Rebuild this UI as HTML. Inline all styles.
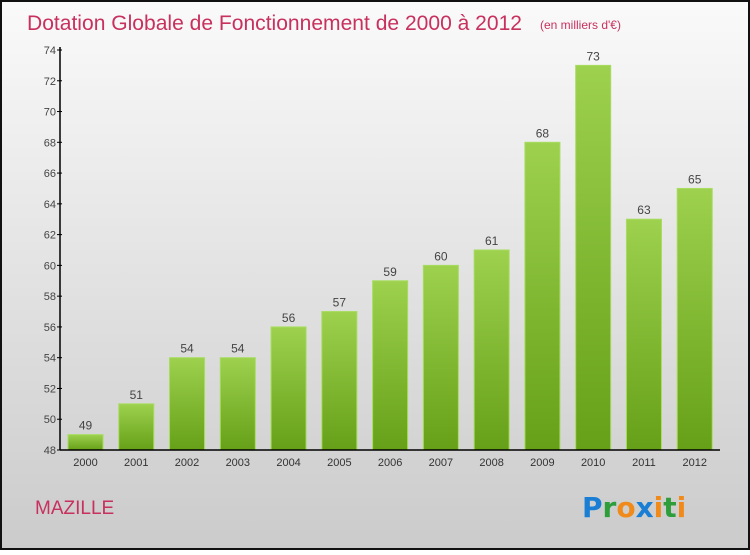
<!DOCTYPE html>
<html><head><meta charset="utf-8"><style>
body{margin:0;width:750px;height:550px;overflow:hidden;font-family:"Liberation Sans",sans-serif}
</style></head><body>
<svg width="750" height="550" xmlns="http://www.w3.org/2000/svg">
<defs>
<linearGradient id="bg" x1="0" y1="0" x2="0" y2="1"><stop offset="0" stop-color="#fafafa"/><stop offset="1" stop-color="#cbcbcb"/></linearGradient>
<linearGradient id="bar" x1="0" y1="0" x2="0" y2="1"><stop offset="0" stop-color="#9dd14e"/><stop offset="1" stop-color="#66a018"/></linearGradient>
</defs>
<rect x="1" y="1" width="748" height="548" fill="url(#bg)" stroke="#111" stroke-width="2"/>
<text x="27" y="30" font-size="21" fill="#c8305e" textLength="495" lengthAdjust="spacingAndGlyphs">Dotation Globale de Fonctionnement de 2000 à 2012</text>
<text x="540" y="29" font-size="12" fill="#c8305e">(en milliers d'€)</text>
<g id="plot"></g>
<text x="35" y="514" font-size="19" fill="#c8305e">MAZILLE</text>
<g font-size="28" font-weight="bold" font-family="'DejaVu Sans',sans-serif">
<text x="582" y="517"><tspan fill="#1a7fd4">P</tspan><tspan fill="#2e9e3a">r</tspan><tspan fill="#f08a1a">o</tspan><tspan fill="#1a7fd4">x</tspan><tspan fill="#f08a1a">i</tspan><tspan fill="#2e9e3a">t</tspan><tspan fill="#f08a1a">i</tspan></text>
</g>
</svg>
<script>
const categories=["2000","2001","2002","2003","2004","2005","2006","2007","2008","2009","2010","2011","2012"];
const values=[49,51,54,54,56,57,59,60,61,68,73,63,65];
const yTicks=[48,50,52,54,56,58,60,62,64,66,68,70,72,74];
const ns="http://www.w3.org/2000/svg";
const g=document.getElementById('plot');
const x0=60,x1=720,yTop=50,yBot=450,yMin=48,yMax=74;
const band=(x1-x0)/categories.length;
const y=v=>yBot-(v-yMin)/(yMax-yMin)*(yBot-yTop);
function el(t,a){const e=document.createElementNS(ns,t);for(const k in a)e.setAttribute(k,a[k]);g.appendChild(e);return e;}
values.forEach((v,i)=>{
 const bx=x0+i*band+8;
 const r=el('rect',{x:bx,y:y(v),width:35,height:yBot-y(v),fill:'url(#bar)',stroke:'#a8dc60','stroke-width':1});
 
 
 const t=el('text',{x:bx+17.5,y:y(v)-5,'font-size':12,fill:'#444','text-anchor':'middle'});
 t.textContent=v;
 
 
 const c=el('text',{x:bx+17.5,y:466,'font-size':11,fill:'#333','text-anchor':'middle'});
 c.textContent=categories[i];
 
 
});
yTicks.forEach(v=>{
 const l=el('line',{x1:x0-3,x2:x0+2,y1:y(v),y2:y(v),stroke:'#000'});
 
 
 const t=el('text',{x:x0-4,y:y(v)+4,'font-size':11,fill:'#444','text-anchor':'end'});
 t.textContent=v;
 
 
});
const ya=el('line',{x1:x0,x2:x0,y1:yTop-3,y2:yBot,stroke:'#000','stroke-width':1.5});


const xa=el('line',{x1:x0,x2:x1,y1:yBot,y2:yBot,stroke:'#000','stroke-width':1.5});


</script>
</body></html>
